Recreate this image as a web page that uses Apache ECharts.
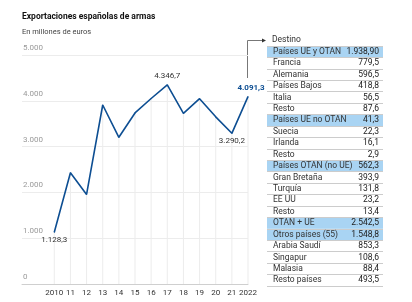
<!DOCTYPE html>
<html>
<head>
<meta charset="utf-8">
<script src="https://cdn.jsdelivr.net/npm/echarts@6/dist/echarts.min.js"></script>
<style>
  html, body { margin: 0; padding: 0; background: #fff; }
  #chart { width: 412px; height: 302px; }
</style>
</head>
<body>
<div id="chart"></div>
<script>
var years = [2010, 2011, 2012, 2013, 2014, 2015, 2016, 2017, 2018, 2019, 2020, 2021, 2022];
var yearLabels = ["2010", "11", "12", "13", "14", "15", "16", "17", "18", "19", "20", "21", "2022"];
var exports = [1128.3, 2430, 1955, 3908, 3203, 3735, 4050, 4346.7, 3725, 4046, 3650, 3290.2, 4091.3];
var yTicks = [0, 1000, 2000, 3000, 4000, 5000];

var tableRows = [
  "Países UE y OTAN", "Francia", "Alemania", "Países Bajos", "Italia", "Resto",
  "Países UE no OTAN", "Suecia", "Irlanda", "Resto",
  "Países OTAN (no UE)", "Gran Bretaña", "Turquía", "EE UU", "Resto",
  "OTAN + UE", "Otros países (55)", "Arabia Saudí", "Singapur", "Malasia", "Resto países"
];
var tableValues = [
  1938.9, 779.5, 596.5, 418.8, 56.5, 87.6,
  41.3, 22.3, 16.1, 2.9,
  562.3, 393.9, 131.8, 23.2, 13.4,
  2542.5, 1548.8, 853.3, 108.6, 88.4, 493.5
];
var tableDigits = [2, 1, 1, 1, 1, 1, 1, 1, 1, 1, 1, 1, 1, 1, 1, 1, 1, 1, 1, 1, 1];
var tableHighlight = [1, 0, 0, 0, 0, 0, 1, 0, 0, 0, 1, 0, 0, 0, 0, 1, 1, 0, 0, 0, 0];

var FONT = "Roboto";

function fmt(v, d) {
  var s = v.toFixed(d).split(".");
  var intPart = s[0].replace(/\B(?=(\d{3})+(?!\d))/g, ".");
  return s.length > 1 ? intPart + "," + s[1] : intPart;
}

var chart = echarts.init(document.getElementById("chart"));

var lineData = years.map(function (y, i) {
  var item = { value: [y, exports[i]] };
  if (i === 0 || i === 11) {
    item.label = { show: true, position: "bottom", distance: 3 };
  } else if (i === 7) {
    item.label = { show: true, position: "top", distance: 4 };
  } else if (i === 12) {
    item.label = { show: true, position: "top", distance: 4, offset: [3, 0],
      color: "#0d4e92", fontWeight: "bold" };
  }
  return item;
});

var dropData = years.map(function (y, i) { return [y, exports[i]]; });

var option = {
  animation: false,
  backgroundColor: "#fff",
  textStyle: { fontFamily: FONT },
  title: [
    {
      text: "Exportaciones españolas de armas",
      left: 22, top: 12, padding: 0,
      textStyle: { fontFamily: FONT, fontSize: 8.5, fontWeight: "bold", color: "#111" }
    },
    {
      text: "En millones de euros",
      left: 22, top: 28, padding: 0,
      textStyle: { fontFamily: FONT, fontSize: 7.5, fontWeight: "normal", color: "#444" }
    },
    {
      text: "Destino",
      left: 272, top: 35, padding: 0,
      textStyle: { fontFamily: FONT, fontSize: 8.5, fontWeight: "normal", color: "#333" }
    }
  ],
  grid: [
    { left: 22, right: 164, top: 55, bottom: 18 },
    { left: 267, width: 116, top: 46, height: 240 }
  ],
  xAxis: [
    {
      gridIndex: 0,
      type: "value",
      min: 2008,
      max: 2022,
      interval: 1,
      axisLine: { show: true, lineStyle: { color: "#cfcfcf" } },
      axisTick: { show: false },
      splitLine: { show: false },
      axisLabel: {
        fontFamily: FONT, fontSize: 8, color: "#333", margin: 5,
        showMinLabel: true, showMaxLabel: true,
        formatter: function (v) {
          var k = years.indexOf(v);
          return k >= 0 ? yearLabels[k] : "";
        }
      }
    },
    { gridIndex: 1, type: "value", min: 0, max: 1, show: false }
  ],
  yAxis: [
    {
      gridIndex: 0,
      type: "value",
      min: yTicks[0],
      max: yTicks[yTicks.length - 1],
      interval: 1000,
      axisLine: { show: false },
      axisTick: { show: false },
      splitLine: { lineStyle: { color: "#ececec" } },
      axisLabel: {
        inside: true, margin: 1, verticalAlign: "bottom", padding: [0, 0, 3, 0],
        fontFamily: FONT, fontSize: 8, color: "#9a9a9a",
        formatter: function (v) { return fmt(v, 0); }
      }
    },
    {
      gridIndex: 1,
      type: "category",
      inverse: true,
      data: tableRows,
      axisLine: { show: false },
      axisTick: { show: false, interval: 0 },
      splitLine: { show: true, interval: 0, lineStyle: { color: "#cccccc", width: 1 } },
      axisLabel: {
        inside: true, margin: 6, interval: 0, hideOverlap: false,
        fontFamily: FONT, fontSize: 8.5, color: "#333"
      },
      z: 5
    }
  ],
  series: [
    {
      name: "drop",
      type: "bar",
      xAxisIndex: 0, yAxisIndex: 0,
      barWidth: 1,
      silent: true,
      itemStyle: { color: "#ececec" },
      data: dropData,
      z: 1
    },
    {
      name: "Exportaciones",
      type: "line",
      xAxisIndex: 0, yAxisIndex: 0,
      showSymbol: true,
      symbol: "circle",
      symbolSize: 1,
      itemStyle: { color: "#0d4e92" },
      lineStyle: { color: "#0d4e92", width: 1.6 },
      label: {
        fontFamily: FONT, fontSize: 8, color: "#333",
        formatter: function (p) { return fmt(p.value[1], 1); }
      },
      data: lineData,
      z: 3
    },
    {
      name: "highlight",
      type: "bar",
      xAxisIndex: 1, yAxisIndex: 1,
      barCategoryGap: 0,
      barGap: "-100%",
      silent: true,
      itemStyle: { color: "#a9d4f3" },
      data: tableHighlight.map(function (h) { return h ? 1 : "-"; }),
      z: 1
    },
    {
      name: "valores",
      type: "bar",
      xAxisIndex: 1, yAxisIndex: 1,
      barCategoryGap: 0,
      barGap: "-100%",
      silent: true,
      itemStyle: { color: "rgba(0,0,0,0)" },
      label: {
        show: true, position: "insideRight", distance: 4,
        fontFamily: FONT, fontSize: 8.5, color: "#222",
        formatter: function (p) { return fmt(tableValues[p.dataIndex], tableDigits[p.dataIndex]); }
      },
      data: tableRows.map(function () { return 1; }),
      z: 6
    }
  ],
  graphic: [
    {
      type: "polyline",
      silent: true,
      shape: { points: [[247.5, 78], [247.5, 40.5], [262, 40.5]] },
      style: { stroke: "#777", lineWidth: 1, fill: null }
    },
    {
      type: "polygon",
      silent: true,
      shape: { points: [[262, 38.5], [266, 40.5], [262, 42.5]] },
      style: { fill: "#333" }
    }
  ]
};

chart.setOption(option);
</script>
</body>
</html>
